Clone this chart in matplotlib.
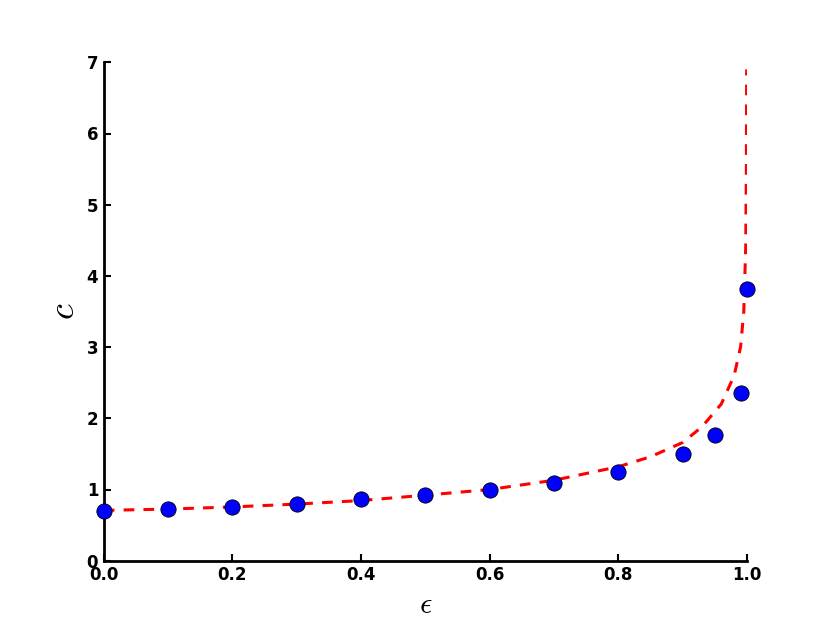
import matplotlib
matplotlib.use("Agg")
from matplotlib import pyplot as plt

plt.rcParams["mathtext.fontset"] = "cm"

# measured points
eps_pts = [0.0, 0.1, 0.2, 0.3, 0.4, 0.5, 0.6, 0.7, 0.8, 0.9, 0.95, 0.99, 1.0]
c_pts = [0.70, 0.73, 0.76, 0.80, 0.86, 0.92, 0.99, 1.09, 1.24, 1.50, 1.77, 2.36, 3.81]

# theory curve
eps_line = [0.0, 0.1, 0.2, 0.3, 0.4, 0.5, 0.6, 0.7, 0.8, 0.85, 0.9, 0.93,
            0.96, 0.98, 0.99, 0.995, 0.998, 0.999, 0.9995]
c_line = [0.707, 0.725, 0.755, 0.795, 0.845, 0.92, 1.0, 1.13, 1.32, 1.46,
          1.66, 1.88, 2.2, 2.6, 3.0, 3.5, 4.4, 5.5, 6.9]

fig = plt.figure(figsize=(8.3, 6.23), dpi=100)
ax = fig.add_subplot(111)
fig.subplots_adjust(left=0.125, right=0.9, bottom=0.1, top=0.9)

ax.plot(eps_line, c_line, "r--", linewidth=2.2, dashes=(3.5, 3))
ax.plot(eps_pts, c_pts, "o", color="blue", markeredgecolor="black",
        markeredgewidth=0.6, markersize=11, clip_on=False, zorder=3)

ax.set_xlim(0, 1)
ax.set_ylim(0, 7)
ax.set_xticks([0.0, 0.2, 0.4, 0.6, 0.8, 1.0])
ax.set_yticks(range(0, 8))

for side in ["top", "right"]:
    ax.spines[side].set_visible(False)
for side in ["left", "bottom"]:
    ax.spines[side].set_linewidth(2)
ax.tick_params(direction="in", length=5, width=1.5, top=False, right=False,
               labelsize=12, pad=4)
for lab in ax.get_xticklabels() + ax.get_yticklabels():
    lab.set_fontweight("bold")

ax.set_xlabel(r"$\epsilon$", fontsize=22)
ax.set_ylabel(r"$c$", fontsize=26)

fig.savefig("out.png", dpi=100)
